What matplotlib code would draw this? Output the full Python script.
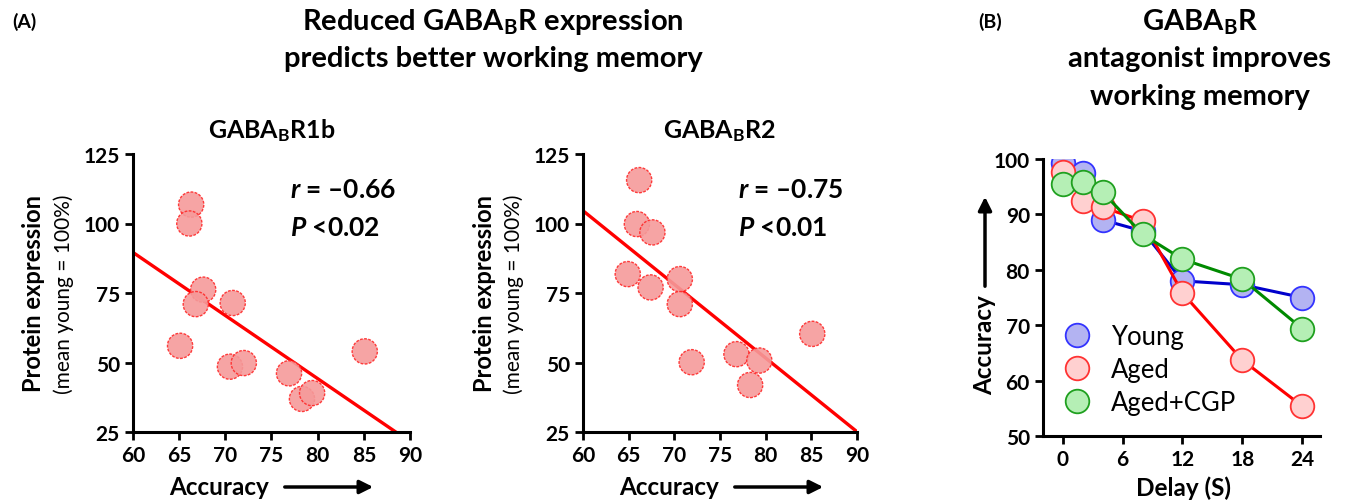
import numpy as np
import matplotlib
matplotlib.use("Agg")
import matplotlib.pyplot as plt

plt.rcParams['font.family'] = ['Lato', 'DejaVu Sans']
plt.rcParams['mathtext.fontset'] = 'custom'
plt.rcParams['mathtext.rm'] = 'Lato'
plt.rcParams['mathtext.it'] = 'Lato:italic:bold'
plt.rcParams['mathtext.bf'] = 'Lato:bold'

# panel A data (accuracy vs protein expression)
r1b_acc = [66.3, 66.1, 67.6, 66.8, 70.8, 65.1, 70.5, 72.0, 76.9, 78.3, 79.4, 85.1]
r1b_expr = [106.8, 100.0, 76.2, 71.0, 71.4, 56.0, 48.5, 49.8, 46.1, 36.9, 39.0, 54.0]
r2_acc = [66.15, 65.9, 67.6, 64.9, 67.4, 70.6, 70.6, 71.9, 76.8, 79.3, 78.3, 85.1]
r2_expr = [115.6, 99.8, 96.8, 81.8, 77.0, 80.0, 71.0, 50.1, 53.0, 50.7, 41.9, 60.3]
# regression lines (value at 60, slope)
r1b_fit = (89.6, -2.27)
r2_fit = (104.6, -2.65)
r1b_stats = ("\u20130.66", "<0.02")
r2_stats = ("\u20130.75", "<0.01")

# panel B data
delay = [0, 2, 4, 8, 12, 18, 24]
young = [99.2, 97.5, 89.0, 87.0, 78.0, 77.3, 75.0]
aged = [97.6, 92.5, 91.3, 88.8, 75.8, 63.7, 55.4]
aged_cgp = [95.5, 95.8, 94.0, 86.4, 81.9, 78.3, 69.4]

W, H = 1350, 502
fig = plt.figure(figsize=(W / 100, H / 100), dpi=100)


def box(l, t, r, b):
    return [l / W, 1 - b / H, (r - l) / W, (b - t) / H]


def style_axes(ax):
    for s in ['top', 'right']:
        ax.spines[s].set_visible(False)
    for s in ['left', 'bottom']:
        ax.spines[s].set_linewidth(2.2)
    ax.tick_params(width=2, length=6, labelsize=15, direction='out')
    for lab in ax.get_xticklabels() + ax.get_yticklabels():
        lab.set_fontweight('bold')


def arrow(p0, p1):
    fig.add_artist(matplotlib.patches.FancyArrowPatch(
        (p0[0] / W, 1 - p0[1] / H), (p1[0] / W, 1 - p1[1] / H),
        transform=fig.transFigure, arrowstyle='-|>', mutation_scale=20,
        lw=2.5, color='black'))


def scatter_panel(rect, acc, expr, fit, stats, title, ylx):
    ax = fig.add_axes(box(*rect))
    xs = np.array([60, 90])
    ax.plot(xs, fit[0] + fit[1] * (xs - 60), color='#ff0000', lw=2.4, zorder=2)
    ax.scatter(acc, expr, s=330, facecolor='#f59a9a', edgecolor='#ff2a2a',
               linewidth=1.0, linestyle=(0, (2, 1)), alpha=0.9, zorder=3)
    ax.set_xlim(60, 90)
    ax.set_ylim(25, 125)
    ax.set_xticks(range(60, 91, 5))
    ax.set_yticks(range(25, 126, 25))
    style_axes(ax)
    ax.text(0.565, 0.874, "$r$ = " + stats[0], transform=ax.transAxes,
            fontsize=19, fontweight='bold', va='center')
    ax.text(0.565, 0.737, "$P$ " + stats[1], transform=ax.transAxes,
            fontsize=19, fontweight='bold', va='center')
    cx = (rect[0] + rect[2]) / 2
    fig.text(cx / W, 1 - 131 / H, title, ha='center', va='center',
             fontsize=18, fontweight='bold')
    fig.text(ylx / W, 1 - 294 / H, "Protein expression", rotation=90,
             ha='center', va='center', fontsize=17, fontweight='bold')
    fig.text((ylx + 30) / W, 1 - 294 / H, "(mean young = 100%)", rotation=90,
             ha='center', va='center', fontsize=15)
    # x label with arrow
    lx = rect[0] + 86
    fig.text(lx / W, 1 - 488 / H, "Accuracy", ha='center', va='center',
             fontsize=17.5, fontweight='bold')
    arrow((lx + 63, 488), (lx + 157, 488))
    return ax


scatter_panel((133, 155, 410, 433), r1b_acc, r1b_expr, r1b_fit, r1b_stats,
              r"GABA$_\mathbf{B}$R1b", 34)
scatter_panel((583, 155, 857, 433), r2_acc, r2_expr, r2_fit, r2_stats,
              r"GABA$_\mathbf{B}$R2", 484)

# panel B
axb = fig.add_axes(box(1043, 160, 1320, 437))
series = [
    ("Young", young, '#0000cc', '#b3b3f2', '#3333ff'),
    ("Aged", aged, '#ff0000', '#ffd0d0', '#ff3333'),
    ("Aged+CGP", aged_cgp, '#008a00', '#b5efb5', '#1fa01f'),
]
for name, vals, lc, fc, ec in series:
    axb.plot(delay, vals, color=lc, lw=2.2, marker='o', ms=17,
             mfc=fc, mec=ec, mew=1.3, label=name)
axb.set_xlim(-2, 25.8)
axb.set_ylim(50, 100)
axb.set_xticks([0, 6, 12, 18, 24])
axb.set_yticks(range(50, 101, 10))
style_axes(axb)
leg = axb.legend(loc='lower left', frameon=False, fontsize=18.5,
                 handlelength=0.6, handletextpad=1.0, borderaxespad=0.2,
                 labelspacing=0.32, bbox_to_anchor=(0.04, 0.02))
for h in leg.legend_handles:
    h.set_linestyle('None')
fig.text(1183 / W, 1 - 488 / H, "Delay (S)", ha='center', va='center',
         fontsize=17.5, fontweight='bold')
fig.text(985 / W, 1 - 345 / H, "Accuracy", rotation=90, ha='center',
         va='center', fontsize=17.5, fontweight='bold')
arrow((985, 290), (985, 195))

# headings
fig.text(12 / W, 1 - 22 / H, "(A)", ha='left', va='center', fontsize=14,
         fontweight='bold')
fig.text(978 / W, 1 - 22 / H, "(B)", ha='left', va='center', fontsize=14,
         fontweight='bold')
fig.text(493 / W, 1 - 22 / H, r"Reduced GABA$_\mathbf{B}$R expression",
         ha='center', va='center', fontsize=21, fontweight='bold')
fig.text(493 / W, 1 - 59 / H, "predicts better working memory",
         ha='center', va='center', fontsize=21, fontweight='bold')
fig.text(1200 / W, 1 - 22 / H, r"GABA$_\mathbf{B}$R", ha='center',
         va='center', fontsize=21, fontweight='bold')
fig.text(1200 / W, 1 - 59 / H, "antagonist improves", ha='center',
         va='center', fontsize=21, fontweight='bold')
fig.text(1200 / W, 1 - 97 / H, "working memory", ha='center',
         va='center', fontsize=21, fontweight='bold')

fig.savefig("out.png", dpi=100)
